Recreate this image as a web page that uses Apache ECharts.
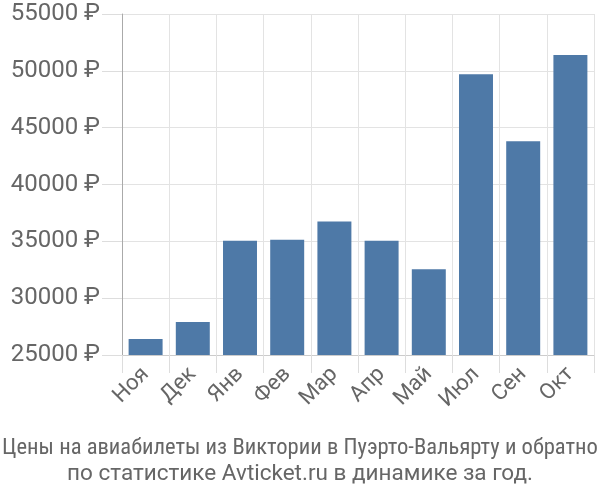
<!DOCTYPE html>
<html><head><meta charset="utf-8">
<script src="https://cdn.jsdelivr.net/npm/echarts@6/dist/echarts.min.js"></script>
<style>html,body{margin:0;padding:0;background:#fff}#c{width:600px;height:500px}</style>
</head><body><div id="c"></div>
<script>
const categories = ['Ноя','Дек','Янв','Фев','Мар','Апр','Май','Июл','Сен','Окт'];
const prices = [26400, 27900, 35050, 35150, 36750, 35050, 32550, 49700, 43800, 51400];
const yTicks = [25000, 30000, 35000, 40000, 45000, 50000, 55000];
const titleLines = ['Цены на авиабилеты из Виктории в Пуэрто-Вальярту и обратно', 'по статистике Avticket.ru в динамике за год.'];

const chart = echarts.init(document.getElementById('c'), null, {renderer:'canvas'});
chart.setOption({
  animation:false,
  title:{
    text: '{a|' + titleLines[0] + '}\n{b|' + titleLines[1] + '}',
    left:'center', top:430,
    textStyle:{
      fontWeight:'normal',
      rich:{
        a:{fontFamily:'"Roboto Condensed", "Liberation Sans Narrow", Roboto', fontSize:22.6, fontWeight:'normal', color:'#666', lineHeight:26, align:'center'},
        b:{fontFamily:'Roboto', fontSize:22.5, fontWeight:'normal', color:'#666', lineHeight:26, align:'center'}
      }
    }
  },
  grid:{left:122, right:6, top:14, bottom:145},
  xAxis:{
    type:'category', data:categories,
    axisLine:{show:true, lineStyle:{color:'#ccc'}},
    axisTick:{show:true, length:18, lineStyle:{color:'#ddd'}},
    splitLine:{show:true, lineStyle:{color:'#e3e3e3'}},
    axisLabel:{rotate:45, fontFamily:'Roboto', fontSize:22, color:'#666', margin:16, interval:0}
  },
  yAxis:{
    type:'value', min:yTicks[0], max:yTicks[yTicks.length-1], interval:5000,
    axisLine:{show:true, lineStyle:{color:'#aaa'}},
    axisTick:{show:true, length:20, lineStyle:{color:'#ddd'}},
    splitLine:{show:true, lineStyle:{color:'#e3e3e3'}},
    axisLabel:{fontFamily:'Roboto', fontSize:24, color:'#666', margin:22, formatter: v => v + ' ₽'}
  },
  series:[{type:'bar', data:prices, barWidth:'72%', itemStyle:{color:'#4e79a7'}}]
});
</script></body></html>
